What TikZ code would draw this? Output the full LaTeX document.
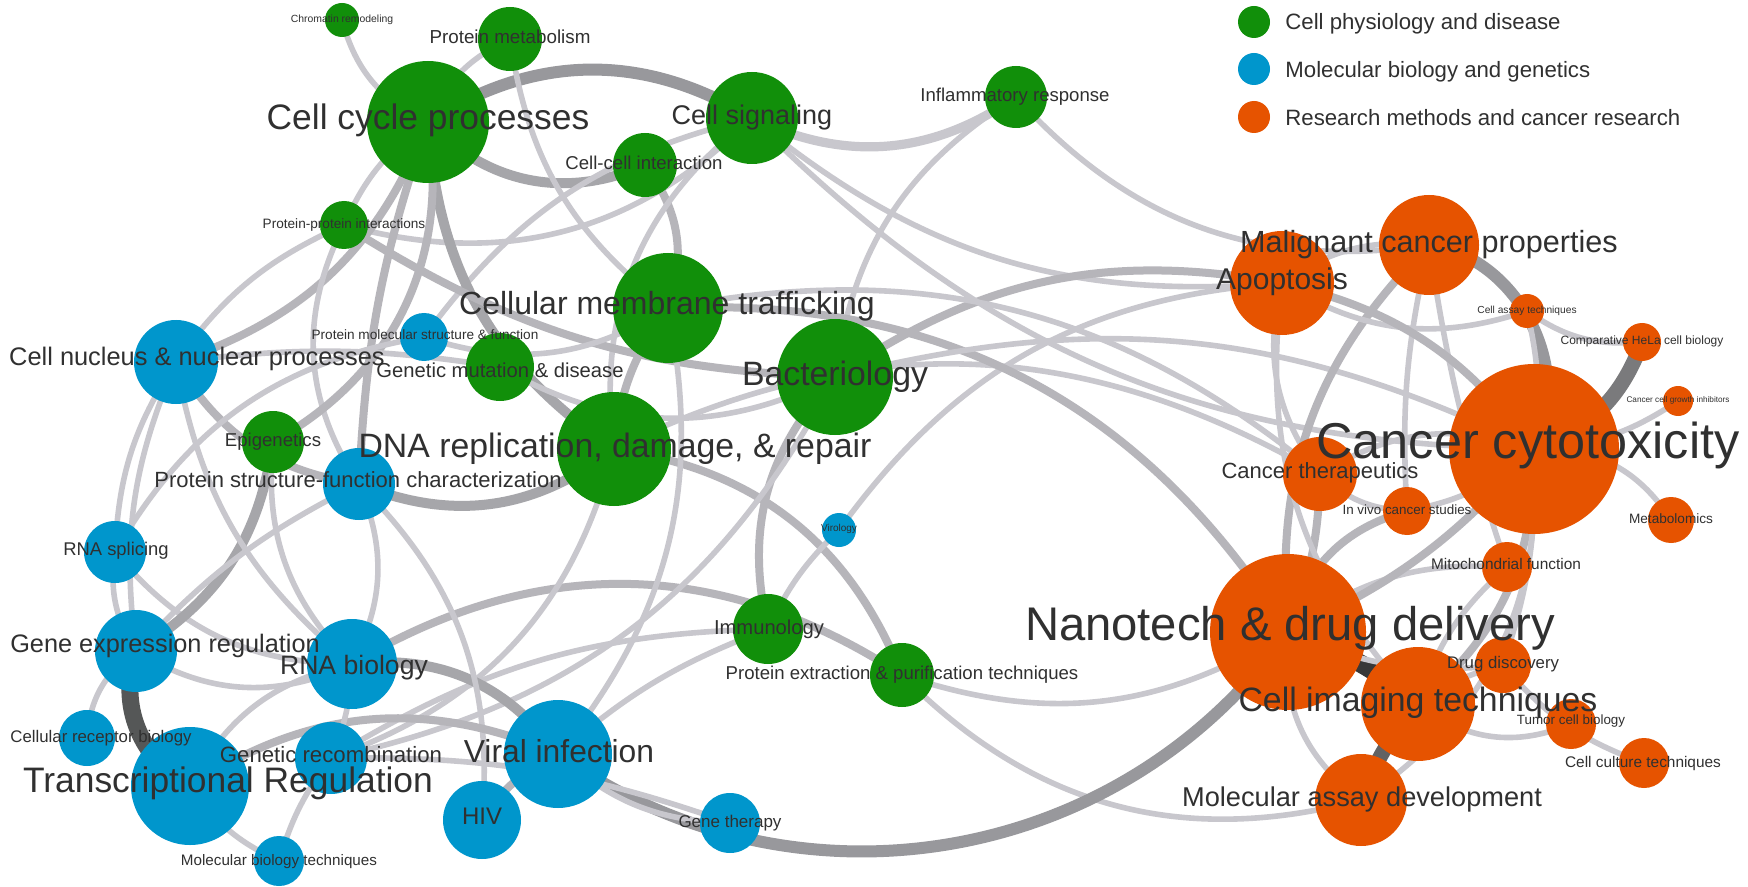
\documentclass[tikz,border=0pt]{standalone}
\usepackage{fontspec}
\setmainfont{Liberation Sans}
\usetikzlibrary{positioning}

\pgfdeclarelayer{bg}
\pgfdeclarelayer{edges}
\pgfsetlayers{bg,edges,main}

\definecolor{cgreen}{HTML}{118F0A}
\definecolor{cblue}{HTML}{0096CC}
\definecolor{corange}{HTML}{E65300}
\definecolor{labeltext}{HTML}{303030}
\definecolor{elightc}{HTML}{C8C7CD}
\definecolor{emedc}{HTML}{B6B5BA}
\definecolor{ewidec}{HTML}{A6A6AA}
\definecolor{etopc}{HTML}{98989C}
\definecolor{ehelac}{HTML}{7A7A7C}
\definecolor{emadc}{HTML}{626263}
\definecolor{egerc}{HTML}{555757}
\definecolor{ecitc}{HTML}{383838}

\newcommand{\lblfont}[1]{\fontsize{#1}{#1}\selectfont}

\begin{document}
\begin{tikzpicture}[
      x=0.5pt, y=-0.5pt,
      grn/.style={circle, fill=cgreen, inner sep=0pt},
      blu/.style={circle, fill=cblue, inner sep=0pt},
      org/.style={circle, fill=corange, inner sep=0pt},
      lbl/.style={anchor=base, inner sep=0pt, text=labeltext},
      elight/.style={draw=elightc, line width=2.8pt},
      ebroad/.style={draw=elightc, line width=4.6pt},
      emed/.style={draw=emedc, line width=4pt},
      ewide/.style={draw=ewidec, line width=5pt},
      etop/.style={draw=etopc, line width=6pt},
      ehela/.style={draw=ehelac, line width=7.5pt},
      emad/.style={draw=emadc, line width=7.5pt},
      eger/.style={draw=egerc, line width=8.5pt},
      ecit/.style={draw=ecitc, line width=9pt},
    ]
    \begin{pgfonlayer}{bg}
    \fill[white] (0,0) rectangle (1748,887);
    \end{pgfonlayer}
    \useasboundingbox (0,0) rectangle (1748,887);

    % cell physiology and disease
    \node[grn, minimum size=17pt] (cr) at (342,20) {};
    \node[grn, minimum size=32pt] (pm) at (510,39) {};
    \node[grn, minimum size=61pt] (cc) at (428,122) {};
    \node[grn, minimum size=46pt] (cs) at (752,118) {};
    \node[grn, minimum size=32pt] (cci) at (645,165) {};
    \node[grn, minimum size=31pt] (ir) at (1016,97) {};
    \node[grn, minimum size=24pt] (ppi) at (344,225) {};
    \node[grn, minimum size=55pt] (cmt) at (668,308) {};
    \node[grn, minimum size=58pt] (bac) at (835,377) {};
    \node[grn, minimum size=34pt] (gmd) at (500,367) {};
    \node[grn, minimum size=31pt] (epi) at (273,442) {};
    \node[grn, minimum size=57pt] (dna) at (614,449) {};
    \node[grn, minimum size=35pt] (imm) at (768,629) {};
    \node[grn, minimum size=32pt] (pep) at (902,675) {};

    % molecular biology and genetics
    \node[blu, minimum size=42pt] (cn) at (176,362) {};
    \node[blu, minimum size=24pt] (pms) at (424,337) {};
    \node[blu, minimum size=36pt] (psf) at (359,484) {};
    \node[blu, minimum size=31pt] (rs) at (115,552) {};
    \node[blu, minimum size=17pt] (vir) at (839,530) {};
    \node[blu, minimum size=41pt] (ger) at (136,651) {};
    \node[blu, minimum size=45pt] (rna) at (352,664) {};
    \node[blu, minimum size=28pt] (crb) at (87,738) {};
    \node[blu, minimum size=59pt] (tr) at (190,786) {};
    \node[blu, minimum size=36pt] (gr) at (331,758) {};
    \node[blu, minimum size=54pt] (vi) at (558,754) {};
    \node[blu, minimum size=39pt] (hiv) at (482,820) {};
    \node[blu, minimum size=25pt] (mbt) at (279,861) {};
    \node[blu, minimum size=30pt] (gt) at (730,823) {};

    % research methods and cancer research
    \node[org, minimum size=50pt] (mcp) at (1429,245) {};
    \node[org, minimum size=52pt] (apo) at (1282,283) {};
    \node[org, minimum size=17pt] (cat) at (1527,311) {};
    \node[org, minimum size=19pt] (hela) at (1642,342) {};
    \node[org, minimum size=15pt] (cgi) at (1678,401) {};
    \node[org, minimum size=85pt] (cct) at (1534,449) {};
    \node[org, minimum size=37pt] (ct) at (1320,474) {};
    \node[org, minimum size=24pt] (ivc) at (1407,511) {};
    \node[org, minimum size=23pt] (met) at (1671,520) {};
    \node[org, minimum size=25pt] (mf) at (1507,567) {};
    \node[org, minimum size=78pt] (ndd) at (1288,632) {};
    \node[org, minimum size=28pt] (dd) at (1503,665) {};
    \node[org, minimum size=57pt] (cit) at (1418,704) {};
    \node[org, minimum size=25pt] (tcb) at (1571,724) {};
    \node[org, minimum size=25pt] (ccu) at (1644,763) {};
    \node[org, minimum size=46pt] (mad) at (1361,800) {};

    \begin{pgfonlayer}{edges}
    % green cluster
    \draw[etop]   (cc.center) to[bend left=32] (cs.center);
    \draw[ewide]  (cci.center) to[bend left=35] (cc.center);
    \draw[elight] (cc.center) to[bend left=25] (cr.center);
    \draw[elight] (cc.center) to[bend left=20] (pm.center);
    \draw[elight] (cmt.center) to[bend left=22] (pm.center);
    \draw[ebroad] (ir.center) to[bend left=30] (cs.center);
    \draw[emed]   (cci.center) to[bend left=28] (cmt.center);
    \draw[elight] (dna.center) to[bend left=30] (cs.center);
    \draw[elight] (cs.center) to[bend left=30] (ppi.center);
    \draw[elight] (pms.center) to[bend left=20] (cs.center);
    \draw[elight] (ppi.center) to[bend left=15] (cc.center);
    \draw[elight] (bac.center) to[bend left=25] (ir.center);
    \draw[elight] (mcp.center) to[bend left=28] (ir.center);
    \draw[elight] (apo.center) to[bend left=22] (cs.center);
    \draw[emed]   (bac.center) to[bend left=22] (apo.center);
    \draw[elight] (dna.center) to[bend left=28] (ct.center);
    \draw[elight] (vir.center) to[bend left=25] (apo.center);
    \draw[emed]   (cc.center) to[bend left=25] (cn.center);
    \draw[elight] (cn.center) to[bend left=15] (ppi.center);
    \draw[elight] (psf.center) to[bend left=30] (ppi.center);
    \draw[emed]   (psf.center) to[bend left=8] (cc.center);
    \draw[ewide]  (dna.center) to[bend left=26] (cc.center);
    \draw[emed]   (cc.center) to[bend left=35] (epi.center);
    \draw[emed]   (psf.center) to[bend left=25] (cn.center);
    \draw[ewide]  (dna.center) to[bend left=30] (psf.center);
    \draw[emed]   (bac.center) to[bend left=15] (ppi.center);
    \draw[emed]   (dna.center) to[bend left=15] (cmt.center);
    \draw[elight] (cmt.center) to[bend left=25] (pms.center);
    \draw[elight] (bac.center) to[bend left=28] (gmd.center);
    \draw[emed]   (cmt.center) to[bend left=30] (ndd.center);
    \draw[elight] (cmt.center) to[bend left=25] (ct.center);
    \draw[elight] (cn.center) to[bend left=8] (gmd.center);
    \draw[elight] (rs.center) to[bend left=25] (pms.center);
    \draw[elight] (cct.center) to[bend left=22] (cs.center);
    \draw[elight] (bac.center) to[bend left=20] (cct.center);
    % cancer cluster
    \draw[elight] (ct.center) to[bend left=25] (apo.center);
    \draw[emed]   (ndd.center) to[bend left=25] (mcp.center);
    \draw[etop]   (mcp.center) to[bend left=55] (cct.center);
    \draw[elight] (cat.center) to[bend left=10] (cct.center);
    \draw[ehela]  (hela.center) to[bend left=25] (cct.center);
    \draw[elight] (hela.center) to[bend left=20] (cat.center);
    \draw[elight] (cgi.center) to[bend left=15] (cct.center);
    \draw[elight] (cct.center) to[bend left=30] (met.center);
    \draw[elight] (apo.center) to[bend left=20] (mcp.center);
    \draw[elight] (cat.center) to[bend left=25] (apo.center);
    \draw[elight] (ivc.center) to[bend left=8] (mcp.center);
    \draw[elight] (mf.center) to[bend left=5] (mcp.center);
    \draw[emed]   (apo.center) to[bend left=20] (cct.center);
    \draw[elight] (ct.center) to[bend left=25] (cct.center);
    \draw[emed]   (ndd.center) to[bend left=30] (ivc.center);
    \draw[emed]   (ct.center) to[bend left=10] (ndd.center);
    \draw[emed]   (cct.center) to[bend left=25] (cit.center);
    \draw[elight] (cct.center) to[bend left=30] (mad.center);
    \draw[elight] (cct.center) to[bend left=10] (dd.center);
    \draw[elight] (ccu.center) to[bend left=15] (dd.center);
    \draw[elight] (tcb.center) to[bend left=30] (cit.center);
    \draw[elight] (cit.center) to[bend left=10] (dd.center);
    \draw[emad]   (mad.center) to[bend left=10] (cit.center);
    \draw[ecit]   (ndd.center) to[bend left=10] (cit.center);
    \draw[elight] (mad.center) to[bend left=30] (ndd.center);
    \draw[elight] (cit.center) to[bend left=25] (apo.center);
    \draw[elight] (ndd.center) to[bend left=20] (mf.center);
    \draw[elight] (cit.center) to[bend left=15] (mf.center);
    \draw[elight] (cct.center) to[bend left=15] (ivc.center);
    \draw[elight] (ivc.center) to[bend left=20] (ct.center);
    \draw[emed]   (cct.center) to[bend left=12] (ndd.center);
    \draw[elight] (dd.center) to[bend left=15] (ndd.center);
    % middle
    \draw[elight] (ndd.center) to[bend left=25] (pep.center);
    \draw[elight] (mad.center) to[bend left=30] (pep.center);
    \draw[emed]   (dna.center) to[bend left=30] (pep.center);
    \draw[emed]   (rna.center) to[bend left=32] (pep.center);
    \draw[elight] (vi.center) to[bend left=10] (imm.center);
    \draw[elight] (gr.center) to[bend left=15] (imm.center);
    \draw[emed]   (imm.center) to[bend left=28] (bac.center);
    \draw[elight] (imm.center) to[bend left=10] (vir.center);
    \draw[elight] (dna.center) to[bend left=28] (gr.center);
    \draw[elight] (cmt.center) to[bend left=25] (vi.center);
    \draw[elight] (bac.center) to[bend left=25] (gr.center);
    \draw[etop]   (ndd.center) to[bend left=45] (vi.center);
    \draw[ewide]  (rna.center) to[bend left=30] (vi.center);
    \draw[elight] (gt.center) to[bend left=20] (vi.center);
    \draw[elight] (gr.center) to[bend left=10] (gt.center);
    \draw[emed]   (hiv.center) to[bend left=15] (vi.center);
    % blue cluster
    \draw[eger]   (tr.center) to[bend left=40] (ger.center);
    \draw[elight] (crb.center) to[bend left=25] (ger.center);
    \draw[elight] (rs.center) to[bend left=15] (cn.center);
    \draw[elight] (ger.center) to[bend left=15] (cn.center);
    \draw[elight] (ger.center) to[bend left=20] (rs.center);
    \draw[elight] (rna.center) to[bend left=25] (rs.center);
    \draw[elight] (rna.center) to[bend left=28] (ger.center);
    \draw[ewide]  (epi.center) to[bend left=25] (ger.center);
    \draw[elight] (ger.center) to[bend left=10] (psf.center);
    \draw[elight] (psf.center) to[bend left=25] (rna.center);
    \draw[elight] (psf.center) to[bend left=25] (hiv.center);
    \draw[elight] (rna.center) to[bend left=20] (cn.center);
    \draw[elight] (rna.center) to[bend left=25] (epi.center);
    \draw[elight] (tr.center) to[bend left=25] (rna.center);
    \draw[emed]   (tr.center) to[bend left=28] (vi.center);
    \draw[elight] (mbt.center) to[bend left=15] (tr.center);
    \draw[elight] (mbt.center) to[bend left=10] (gr.center);
    \draw[elight] (rna.center) to[bend left=10] (gr.center);
    \end{pgfonlayer}

    % labels
    \node[lbl, font=\lblfont{5.2}] (cr-t) at (342,22.7) {Chromatin remodeling};
    \node[lbl, font=\lblfont{9.4}] (pm-t) at (510,43.5) {Protein metabolism};
    \node[lbl, font=\lblfont{17.7}] (cc-t) at (428,130) {Cell cycle processes};
    \node[lbl, font=\lblfont{13.5}] (cs-t) at (752,124.7) {Cell signaling};
    \node[lbl, font=\lblfont{9.3}] (cci-t) at (644,169.4) {Cell-cell interaction};
    \node[lbl, font=\lblfont{9.3}] (ir-t) at (1015,101.7) {Inflammatory response};
    \node[lbl, font=\lblfont{6.8}] (ppi-t) at (344,228.2) {Protein-protein interactions};
    \node[lbl, font=\lblfont{16}] (cmt-t) at (667,314.8) {Cellular membrane trafficking};
    \node[lbl, font=\lblfont{16.9}] (bac-t) at (835,385.2) {Bacteriology};
    \node[lbl, font=\lblfont{10.1}] (gmd-t) at (500,377.3) {Genetic mutation \& disease};
    \node[lbl, font=\lblfont{9.3}] (epi-t) at (273,446.7) {Epigenetics};
    \node[lbl, font=\lblfont{16.9}] (dna-t) at (615,457.2) {DNA replication, damage, \& repair};
    \node[lbl, font=\lblfont{10.1}] (imm-t) at (769,634) {Immunology};
    \node[lbl, font=\lblfont{9.3}] (pep-t) at (902,679) {Protein extraction \& purification techniques};
    \node[lbl, font=\lblfont{12.7}] (cn-t) at (197,365.1) {Cell nucleus \& nuclear processes};
    \node[lbl, font=\lblfont{6.8}] (pms-t) at (425,339.9) {Protein molecular structure \& function};
    \node[lbl, font=\lblfont{11}] (psf-t) at (358,487.9) {Protein structure-function characterization};
    \node[lbl, font=\lblfont{9.2}] (rs-t) at (116,555.6) {RNA splicing};
    \node[lbl, font=\lblfont{5}] (vir-t) at (839,531.6) {Virology};
    \node[lbl, font=\lblfont{12.65}] (ger-t) at (165,652.4) {Gene expression regulation};
    \node[lbl, font=\lblfont{13.3}] (rna-t) at (354,674.6) {RNA biology};
    \node[lbl, font=\lblfont{8.4}] (crb-t) at (101,742) {Cellular receptor biology};
    \node[lbl, font=\lblfont{17.7}] (tr-t) at (228,792) {Transcriptional Regulation};
    \node[lbl, font=\lblfont{11.1}] (gr-t) at (331,762.3) {Genetic recombination};
    \node[lbl, font=\lblfont{15.9}] (vi-t) at (559,762.4) {Viral infection};
    \node[lbl, font=\lblfont{12}] (hiv-t) at (482,824.6) {HIV};
    \node[lbl, font=\lblfont{7.6}] (mbt-t) at (279,865.5) {Molecular biology techniques};
    \node[lbl, font=\lblfont{8.5}] (gt-t) at (730,827.8) {Gene therapy};
    \node[lbl, font=\lblfont{15.3}] (mcp-t) at (1429,252.7) {Malignant cancer properties};
    \node[lbl, font=\lblfont{15}] (apo-t) at (1282,289.1) {Apoptosis};
    \node[lbl, font=\lblfont{5.1}] (cat-t) at (1527,313.7) {Cell assay techniques};
    \node[lbl, font=\lblfont{6}] (hela-t) at (1642,344.3) {Comparative HeLa cell biology};
    \node[lbl, font=\lblfont{4.1}] (cgi-t) at (1678,402.3) {Cancer cell growth inhibitors};
    \node[lbl, font=\lblfont{25.2}] (cct-t) at (1528,458) {Cancer cytotoxicity};
    \node[lbl, font=\lblfont{11}] (ct-t) at (1320,478.6) {Cancer therapeutics};
    \node[lbl, font=\lblfont{6.7}] (ivc-t) at (1407,514.8) {In vivo cancer studies};
    \node[lbl, font=\lblfont{6.8}] (met-t) at (1671,523.2) {Metabolomics};
    \node[lbl, font=\lblfont{7.7}] (mf-t) at (1506,569.8) {Mitochondrial function};
    \node[lbl, font=\lblfont{23.6}] (ndd-t) at (1290,640.3) {Nanotech \& drug delivery};
    \node[lbl, font=\lblfont{8.4}] (dd-t) at (1503,668.3) {Drug discovery};
    \node[lbl, font=\lblfont{16.9}] (cit-t) at (1418,711.5) {Cell imaging techniques};
    \node[lbl, font=\lblfont{6.7}] (tcb-t) at (1571,724.8) {Tumor cell biology};
    \node[lbl, font=\lblfont{7.7}] (ccu-t) at (1643,767.2) {Cell culture techniques};
    \node[lbl, font=\lblfont{13.6}] (mad-t) at (1362,806.5) {Molecular assay development};

    % legend
    \node[grn, minimum size=16pt] (key-g) at (1254,22) {};
    \node[blu, minimum size=16pt] (key-b) at (1254,69) {};
    \node[org, minimum size=16pt] (key-o) at (1254,117) {};
    \node[lbl, anchor=base west, font=\lblfont{11.1}] (key-g-t) at (1285,29.7) {Cell physiology and disease};
    \node[lbl, anchor=base west, font=\lblfont{11.1}] (key-b-t) at (1285,78) {Molecular biology and genetics};
    \node[lbl, anchor=base west, font=\lblfont{11.1}] (key-o-t) at (1285,125.3) {Research methods and cancer research};
\end{tikzpicture}
\end{document}
